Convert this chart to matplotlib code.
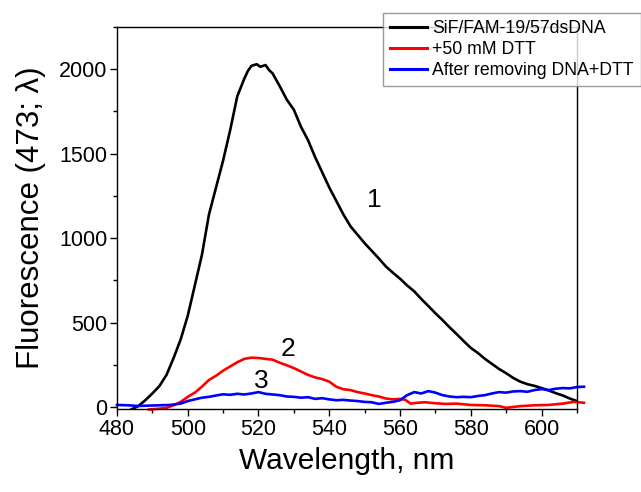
import matplotlib
matplotlib.use("Agg")
import matplotlib.pyplot as plt
from matplotlib.ticker import MultipleLocator

plt.rcParams['font.family'] = ['Liberation Sans', 'DejaVu Sans']

# curve 1: SiF/FAM-19/57dsDNA
wl_1 = [484, 486, 488, 490, 492, 494, 496, 498, 500, 502, 504, 506, 508, 510,
        512, 514, 516, 517, 518, 519.5, 520.5, 522, 523, 524, 526, 528, 530,
        532, 534, 536, 538, 540, 542, 544, 546, 548, 550, 552, 554, 556, 558,
        560, 562, 564, 566, 568, 570, 572, 574, 576, 578, 580, 582, 584, 586,
        588, 590, 592, 594, 596, 598, 600, 602, 604, 606, 608, 610]
fl_1 = [-15, 5, 40, 80, 124, 190, 290, 400, 540, 720, 900, 1140, 1300, 1460,
        1640, 1840, 1945, 1990, 2020, 2030, 2015, 2025, 1995, 1975, 1900, 1820,
        1760, 1660, 1580, 1480, 1390, 1300, 1220, 1140, 1070, 1020, 970, 925,
        880, 832, 795, 760, 720, 685, 640, 598, 555, 515, 472, 432, 390, 350,
        320, 285, 255, 225, 200, 172, 150, 135, 125, 112, 98, 82, 68, 50, 35]

# curve 2: +50 mM DTT
wl_2 = [489, 492, 494, 496, 498, 500, 502, 504, 506, 508, 510, 512, 514, 516,
        518, 520, 522, 524, 526, 528, 530, 532, 534, 536, 538, 540, 542, 544,
        546, 548, 550, 552, 554, 556, 558, 560, 561.5, 563, 565, 567, 570, 573,
        576, 580, 584, 588, 590, 594, 598, 602, 606, 609, 612]
fl_2 = [-15, -10, -5, 10, 30, 60, 85, 120, 160, 185, 215, 240, 265, 285,
        292, 290, 285, 280, 262, 247, 230, 210, 190, 175, 165, 150, 120, 105,
        100, 88, 80, 70, 62, 50, 45, 48, 42, 20, 25, 28, 22, 18,
        20, 12, 10, 5, -5, 5, 10, 12, 20, 30, 25]

# curve 3: after removing DNA+DTT
wl_3 = [480, 483, 486, 489, 492, 495, 498, 500, 502, 504, 506, 508, 510, 512,
        514, 516, 518, 520, 522, 524, 526, 528, 530, 532, 534, 536, 538, 540,
        542, 544, 546, 548, 550, 552, 554, 556, 558, 560, 562, 564, 566, 568,
        570, 572, 574, 576, 578, 580, 582, 584, 586, 588, 590, 592, 594, 596,
        598, 600, 602, 604, 606, 608, 610, 612]
fl_3 = [12, 10, 6, 8, 10, 12, 20, 35, 45, 55, 60, 68, 75, 72,
        78, 74, 80, 88, 78, 74, 70, 62, 60, 55, 58, 48, 52, 45,
        40, 42, 38, 35, 30, 28, 18, 25, 30, 40, 70, 88, 80, 94,
        85, 70, 62, 58, 60, 58, 65, 70, 80, 88, 85, 92, 94, 90,
        100, 106, 100, 108, 112, 110, 118, 120]

labels = ['SiF/FAM-19/57dsDNA', '+50 mM DTT', 'After removing DNA+DTT']
colors = ['black', '#ff0000', '#0000ff']

fig = plt.figure(figsize=(6.41, 4.92), dpi=100)
ax = fig.add_axes([0.1825, 0.1687, 0.7175, 0.7763])

ax.plot(wl_1, fl_1, color=colors[0], lw=1.9, label=labels[0])
ax.plot(wl_2, fl_2, color=colors[1], lw=1.9, label=labels[1], clip_on=False)
ax.plot(wl_3, fl_3, color=colors[2], lw=1.9, label=labels[2], clip_on=False)

ax.set_xlim(480, 610)
ax.set_ylim(-12, 2250)
ax.xaxis.set_major_locator(MultipleLocator(20))
ax.xaxis.set_minor_locator(MultipleLocator(10))
ax.yaxis.set_major_locator(MultipleLocator(500))
ax.yaxis.set_minor_locator(MultipleLocator(250))
ax.tick_params(which='major', direction='out', length=5, width=1,
               labelsize=15.5, pad=2)
ax.tick_params(which='minor', direction='out', length=3, width=1)
for s in ax.spines.values():
    s.set_linewidth(1)

ax.set_xlabel('Wavelength, nm', fontsize=21.5, labelpad=5)
ax.set_ylabel('Fluorescence (473; λ)', fontsize=22.5, labelpad=9)

ax.text(552.7, 1224, '1', fontsize=19, ha='center', va='center')
ax.text(528.2, 341, '2', fontsize=19, ha='center', va='center')
ax.text(520.8, 153, '3', fontsize=19, ha='center', va='center')

leg = fig.legend(loc='upper left', bbox_to_anchor=(383 / 641, 1 - 13 / 492),
                 fontsize=12.7, frameon=True, fancybox=False, borderpad=0.4,
                 handlelength=2.1, handletextpad=0.3, labelspacing=0.22,
                 borderaxespad=0)
leg.get_frame().set_edgecolor('#808080')
leg.get_frame().set_linewidth(1)
for line in leg.get_lines():
    line.set_linewidth(2.2)

fig.savefig('out.png', dpi=100)
